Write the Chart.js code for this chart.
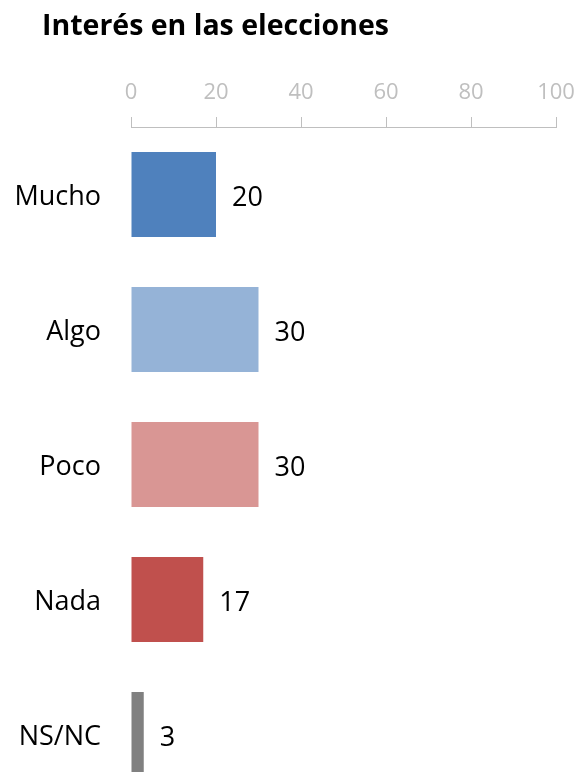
<!DOCTYPE html>
<html>
<head>
<meta charset="utf-8">
<script src="https://cdn.jsdelivr.net/npm/chart.js@4"></script>
<style>
    body { margin: 0; overflow: hidden; background: #fff; }
    canvas { display: block; }
</style>
</head>
<body>
<canvas id="chart" width="576" height="802"></canvas>
<script>
const categories = ['Mucho', 'Algo', 'Poco', 'Nada', 'NS/NC'];
const values = [20, 30, 30, 17, 3];
const barColors = ['#4F81BD', '#95B3D7', '#D99694', '#C0504D', '#808080'];
const axisTicks = [0, 20, 40, 60, 80, 100];
const chartTitle = 'Interés en las elecciones';

const FONT = "'Open Sans', 'Noto Sans', sans-serif";

// title drawn at a fixed left offset, like the original
const titleText = {
    id: 'titleText',
    afterDraw(chart) {
        const ctx = chart.ctx;
        ctx.save();
        ctx.font = 'bold 28.5px ' + FONT;
        ctx.fillStyle = '#000';
        ctx.textAlign = 'left';
        ctx.textBaseline = 'middle';
        ctx.fillText(chartTitle, 42, 27);
        ctx.restore();
    }
};

// value labels to the right of each bar
const valueLabels = {
    id: 'valueLabels',
    afterDatasetsDraw(chart) {
        const ctx = chart.ctx;
        const meta = chart.getDatasetMeta(0);
        ctx.save();
        ctx.font = '27px ' + FONT;
        ctx.fillStyle = '#000';
        ctx.textAlign = 'left';
        ctx.textBaseline = 'middle';
        meta.data.forEach((bar, i) => {
            ctx.fillText(String(values[i]), bar.x + 16, bar.y + 4);
        });
        ctx.restore();
    }
};

new Chart(document.getElementById('chart'), {
    type: 'bar',
    data: {
        labels: categories,
        datasets: [{
            data: values,
            backgroundColor: barColors,
            borderWidth: 0,
            barPercentage: 0.63,
            categoryPercentage: 1
        }]
    },
    options: {
        indexAxis: 'y',
        responsive: false,
        animation: false,
        layout: { padding: { left: 0, right: 20, top: 0, bottom: 0 } },
        plugins: {
            legend: { display: false },
            tooltip: { enabled: false },
            title: { display: false }
        },
        scales: {
            x: {
                position: 'top',
                min: 0,
                max: 100,
                afterBuildTicks(scale) {
                    scale.ticks = axisTicks.map(v => ({ value: v }));
                },
                afterFit(scale) {
                    scale.height = 127;
                    scale.paddingLeft = 0;
                    scale.paddingRight = 0;
                },
                ticks: {
                    color: '#BFBFBF',
                    font: { family: FONT, size: 22 },
                    padding: 11,
                    maxRotation: 0
                },
                grid: {
                    drawOnChartArea: false,
                    color: '#BFBFBF',
                    tickLength: 10
                },
                border: { color: '#BFBFBF', width: 1 }
            },
            y: {
                afterFit(scale) {
                    scale.width = 131;
                    scale.paddingTop = 0;
                    scale.paddingBottom = 0;
                },
                ticks: {
                    color: '#000',
                    font: { family: FONT, size: 27 },
                    padding: 30,
                    labelOffset: 3
                },
                grid: { display: false, drawTicks: false },
                border: { display: false }
            }
        }
    },
    plugins: [valueLabels, titleText]
});
</script>
</body>
</html>
